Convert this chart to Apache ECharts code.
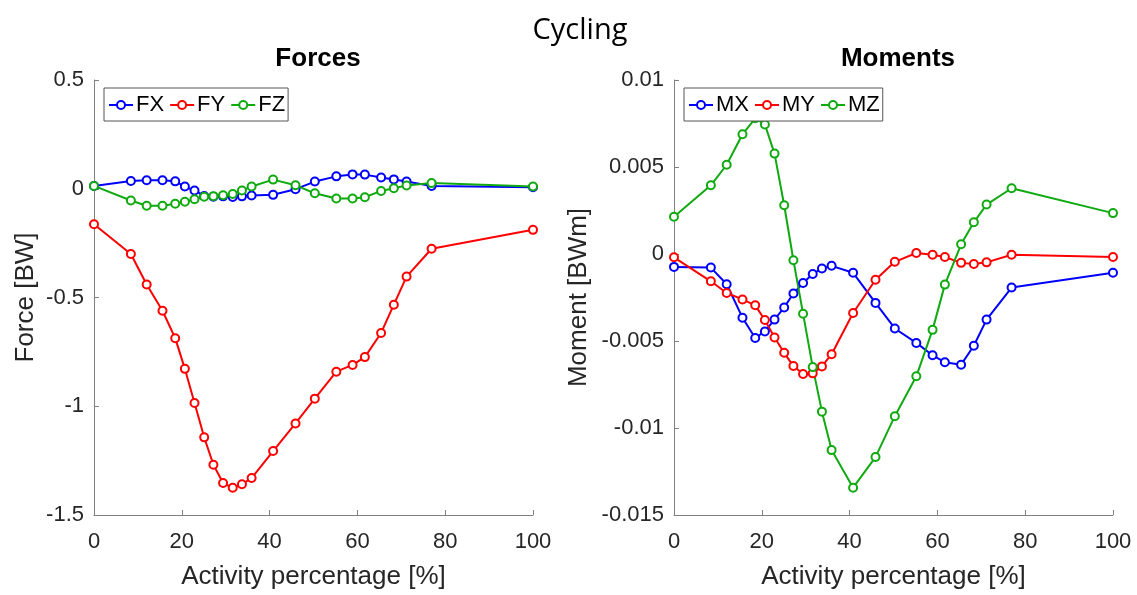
<!DOCTYPE html>
<html>
<head>
<meta charset="utf-8">
<script src="https://cdn.jsdelivr.net/npm/echarts@6/dist/echarts.min.js"></script>
<style>
  html, body { margin: 0; padding: 0; background: #fff; }
  #chart { width: 1137px; height: 595px; }
</style>
</head>
<body>
<div id="chart"></div>
<script>
// Activity percentage of each sample
const pct = [0, 8.4, 12.0, 15.6, 18.5, 20.7, 22.9, 25.1, 27.2, 29.4, 31.6, 33.7, 35.9, 40.8, 45.9, 50.3, 55.2, 58.9, 61.7, 65.4, 68.3, 71.2, 76.9, 100];

// Forces [BW]
const FX = [0.013, 0.036, 0.039, 0.039, 0.034, 0.010, -0.008, -0.033, -0.037, -0.035, -0.038, -0.035, -0.031, -0.028, -0.002, 0.033, 0.057, 0.066, 0.065, 0.052, 0.043, 0.033, 0.013, 0.007];
const FY = [-0.163, -0.300, -0.440, -0.561, -0.687, -0.828, -0.985, -1.143, -1.269, -1.353, -1.375, -1.359, -1.330, -1.206, -1.079, -0.965, -0.841, -0.810, -0.774, -0.663, -0.533, -0.404, -0.276, -0.189];
const FZ = [0.013, -0.054, -0.078, -0.078, -0.069, -0.060, -0.048, -0.037, -0.034, -0.030, -0.024, -0.008, 0.010, 0.042, 0.016, -0.021, -0.045, -0.045, -0.039, -0.010, 0.002, 0.015, 0.026, 0.010];

// Moments [BWm]
const MX = [-0.00074, -0.00078, -0.00174, -0.00366, -0.00483, -0.00445, -0.00377, -0.00307, -0.00227, -0.00167, -0.00115, -0.00083, -0.00068, -0.00108, -0.00281, -0.00428, -0.00511, -0.00582, -0.00622, -0.00636, -0.00527, -0.00377, -0.00193, -0.00108];
const MY = [-0.00019, -0.00157, -0.00224, -0.00261, -0.00295, -0.00379, -0.00480, -0.00568, -0.00644, -0.00690, -0.00686, -0.00646, -0.00576, -0.00339, -0.00148, -0.00045, 0.00006, -0.00004, -0.00017, -0.00051, -0.00057, -0.00048, -0.00004, -0.00017];
const MZ = [0.00214, 0.00395, 0.00513, 0.00688, 0.00780, 0.00744, 0.00577, 0.00280, -0.00036, -0.00343, -0.00650, -0.00906, -0.01127, -0.01343, -0.01167, -0.00932, -0.00703, -0.00436, -0.00176, 0.00056, 0.00182, 0.00284, 0.00378, 0.00235];

const xTicks = { min: 0, max: 100, interval: 20 };
const forceTicks = { min: -1.5, max: 0.5, interval: 0.5 };
const momentTicks = { min: -0.015, max: 0.01, interval: 0.005 };

const BLUE = '#0000ff', RED = '#ff0000', GREEN = '#10aa10';
const SANS = '"Liberation Sans", Arial, sans-serif';
const AXIS_GRAY = '#808080';
const TEXT = '#262626';

function pairs(ys) { return pct.map((x, i) => [x, ys[i]]); }

function lineSeries(name, ys, color, idx) {
  return {
    name, type: 'line', data: pairs(ys),
    xAxisIndex: idx, yAxisIndex: idx,
    symbol: 'emptyCircle', symbolSize: 8,
    lineStyle: { color, width: 2 },
    itemStyle: { color, borderColor: color, borderWidth: 1.5 },
    emphasis: { disabled: true },
    z: 2
  };
}

function fmt(v) { return String(parseFloat(Number(v).toFixed(6))); }

function xAxisCfg(idx) {
  return {
    type: 'value', gridIndex: idx, ...xTicks,
    name: 'Activity percentage [%]', nameLocation: 'middle', nameGap: 49,
    nameTextStyle: { fontFamily: SANS, fontSize: 26, color: TEXT },
    axisLine: { show: true, onZero: false, lineStyle: { color: AXIS_GRAY, width: 1 } },
    axisTick: { show: true, inside: true, length: 5, lineStyle: { color: AXIS_GRAY } },
    axisLabel: { fontFamily: SANS, fontSize: 22, color: TEXT, margin: 16, formatter: fmt },
    splitLine: { show: false }
  };
}

function yAxisCfg(idx, ticks, name, gap) {
  return {
    type: 'value', gridIndex: idx, ...ticks,
    name, nameLocation: 'middle', nameGap: gap,
    nameTextStyle: { fontFamily: SANS, fontSize: 26, color: TEXT },
    axisLine: { show: true, onZero: false, lineStyle: { color: AXIS_GRAY, width: 1 } },
    axisTick: { show: true, inside: true, length: 5, lineStyle: { color: AXIS_GRAY } },
    axisLabel: { fontFamily: SANS, fontSize: 22, color: TEXT, margin: 10, formatter: fmt },
    splitLine: { show: false }
  };
}

function legendCfg(names, left) {
  return {
    data: names, left, top: 88,
    orient: 'horizontal',
    itemWidth: 24, itemHeight: 10, itemGap: 5,
    padding: [6, 3, 5, 4],
    backgroundColor: '#ffffff',
    borderColor: '#555555', borderWidth: 1, borderRadius: 0,
    textStyle: { fontFamily: SANS, fontSize: 22, color: '#000000', padding: [0, 0, 0, -2] },
    selectedMode: false
  };
}

const chart = echarts.init(document.getElementById('chart'), null, { renderer: 'canvas' });

chart.setOption({
  animation: false,
  backgroundColor: '#ffffff',
  title: [
    { text: 'Cycling', left: 575, top: 11, textAlign: 'center',
      textStyle: { fontFamily: '"Open Sans", "Noto Sans", sans-serif', fontSize: 29, fontWeight: 'normal', color: '#000' } },
    { text: 'Forces', left: 313, top: 41, textAlign: 'center',
      textStyle: { fontFamily: SANS, fontSize: 26, fontWeight: 'bold', color: '#000' } },
    { text: 'Moments', left: 893, top: 41, textAlign: 'center',
      textStyle: { fontFamily: SANS, fontSize: 26, fontWeight: 'bold', color: '#000' } }
  ],
  legend: [
    legendCfg(['FX', 'FY', 'FZ'], 104),
    legendCfg(['MX', 'MY', 'MZ'], 684)
  ],
  grid: [
    { left: 94, top: 80, width: 439, height: 438 },
    { left: 674, top: 80, width: 439, height: 438 }
  ],
  xAxis: [xAxisCfg(0), xAxisCfg(1)],
  yAxis: [
    yAxisCfg(0, forceTicks, 'Force [BW]', 55),
    yAxisCfg(1, momentTicks, 'Moment [BWm]', 82)
  ],
  series: [
    lineSeries('FX', FX, BLUE, 0),
    lineSeries('FY', FY, RED, 0),
    lineSeries('FZ', FZ, GREEN, 0),
    lineSeries('MX', MX, BLUE, 1),
    lineSeries('MY', MY, RED, 1),
    lineSeries('MZ', MZ, GREEN, 1)
  ]
});
</script>
</body>
</html>
